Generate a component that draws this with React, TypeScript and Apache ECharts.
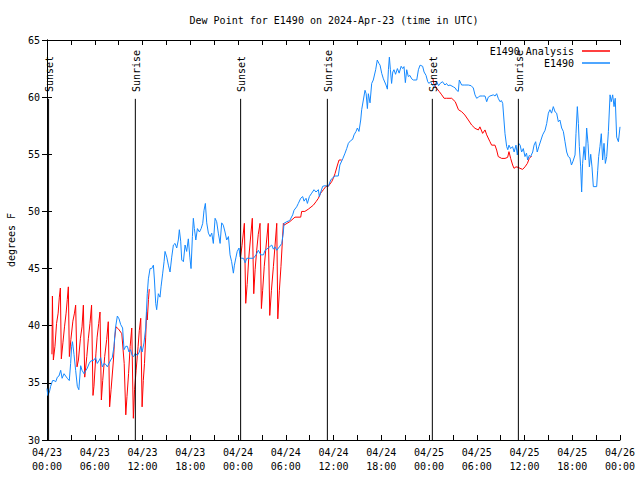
import React, { useEffect, useRef } from "react";
import * as echarts from "echarts";

const TITLE = "Dew Point for E1490 on 2024-Apr-23 (time in UTC)";
const Y_NAME = "degrees F";
const DATES = ["04/23", "04/24", "04/25", "04/26"];

const EVENT_HOURS = [0.2, 11.1, 24.33, 35.23, 48.42, 59.23];
const EVENT_LABELS = ["Sunset", "Sunrise", "Sunset", "Sunrise", "Sunset", "Sunrise"];

const BLUE_HOURS = [
  0.0, 0.1, 0.3, 0.46, 0.7, 0.88, 1.1, 1.3, 1.5, 1.72, 1.9, 2.14, 2.55, 2.8, 2.97, 3.1, 3.2, 3.39, 3.6, 3.81,
  4.0, 4.23, 4.4, 4.65, 4.9, 5.07, 5.3, 5.48, 5.9, 6.1, 6.32, 6.5, 6.74, 6.95, 7.16, 7.4, 7.58, 7.8, 8.0, 8.2,
  8.42, 8.6, 8.84, 9.05, 9.26, 9.5, 9.68, 9.9, 10.1, 10.3, 10.5, 10.7, 10.9, 11.1, 11.35, 11.6, 11.77, 11.95, 12.19, 12.4,
  12.6, 12.74, 12.95, 13.15, 13.37, 13.5, 13.66, 13.78, 13.99, 14.2, 14.33, 14.54, 14.71, 14.83, 15.05, 15.25, 15.46, 15.67, 15.88, 16.09,
  16.3, 16.5, 16.63, 16.8, 16.93, 17.14, 17.35, 17.55, 17.76, 17.95, 18.1, 18.27, 18.39, 18.52, 18.7, 18.9, 19.15, 19.37, 19.57, 19.73,
  19.9, 20.07, 20.28, 20.5, 20.7, 20.9, 21.12, 21.32, 21.53, 21.75, 21.95, 22.15, 22.37, 22.58, 22.8, 23.0, 23.2, 23.42, 23.55, 23.75,
  23.9, 24.13, 24.26, 24.47, 24.7, 24.9, 25.1, 25.5, 25.93, 26.27, 26.56, 26.86, 27.2, 27.4, 27.8, 28.24, 28.45, 28.65, 28.87, 29.2,
  29.5, 29.7, 29.78, 30.12, 30.5, 30.87, 31.04, 31.37, 31.58, 31.88, 32.13, 32.3, 32.55, 32.72, 32.97, 33.26, 33.55, 33.8, 34.1, 34.22,
  34.4, 34.64, 34.95, 35.35, 35.65, 35.98, 36.2, 36.6, 36.8, 37.16, 37.45, 37.66, 37.87, 38.16, 38.4, 38.58, 38.83, 39.0, 39.2, 39.42,
  39.54, 39.75, 39.96, 40.1, 40.26, 40.38, 40.59, 40.8, 41.0, 41.3, 41.5, 41.7, 41.85, 42.06, 42.27, 42.6, 42.77, 42.9, 43.02, 43.15,
  43.3, 43.45, 43.6, 43.8, 44.03, 44.25, 44.5, 44.7, 44.86, 45.03, 45.2, 45.4, 45.6, 45.83, 46.04, 46.46, 46.67, 46.88, 47.2, 47.38,
  47.63, 47.84, 48.0, 48.2, 48.43, 48.65, 48.97, 49.2, 49.4, 49.7, 50.0, 50.2, 50.4, 50.64, 51.06, 51.3, 51.47, 51.68, 51.81, 52.1,
  52.5, 52.94, 53.3, 53.57, 53.78, 53.99, 54.2, 54.4, 54.7, 55.04, 55.25, 55.45, 55.66, 56.08, 56.3, 56.5, 56.7, 56.92, 57.1, 57.26,
  57.42, 57.55, 57.76, 57.9, 58.05, 58.26, 58.5, 58.7, 58.93, 59.1, 59.27, 59.45, 59.64, 59.85, 60.06, 60.25, 60.4, 60.6, 60.77, 61.03,
  61.2, 61.4, 61.6, 61.8, 62.07, 62.28, 62.58, 62.79, 63.0, 63.2, 63.4, 63.62, 63.85, 64.04, 64.25, 64.45, 64.67, 64.88, 65.09, 65.3,
  65.5, 65.7, 65.9, 66.1, 66.35, 66.47, 66.64, 66.77, 66.89, 67.06, 67.18, 67.3, 67.48, 67.65, 67.81, 67.98, 68.15, 68.32, 68.48, 68.65,
  69.07, 69.2, 69.32, 69.48, 69.65, 69.82, 69.99, 70.16, 70.33, 70.54, 70.75, 70.9, 71.08, 71.25, 71.4, 71.58, 71.8, 72.0,
];
const BLUE_VALUES = [
  34.5, 33.9, 34.2, 34.7, 35.2, 35.2, 35.1, 35.5, 35.6, 36.1, 35.4, 35.8, 35.4, 35.2, 36.7, 38.2, 38.6, 37.5, 36.1, 34.7,
  34.4, 36.5, 36.1, 35.8, 36.1, 36.3, 36.7, 36.9, 37.0, 37.2, 36.7, 36.9, 37.2, 36.4, 36.7, 36.6, 36.4, 36.7, 37.0, 37.2,
  38.2, 39.8, 40.85, 40.6, 40.1, 39.8, 37.9, 38.2, 38.2, 37.7, 37.9, 37.4, 37.3, 37.6, 37.4, 37.7, 38.2, 37.7, 38.5, 39.8,
  42.8, 44.1, 45.0, 45.0, 45.3, 44.0, 41.96, 41.4, 42.8, 42.5, 43.4, 44.6, 45.6, 46.5, 46.0, 45.3, 44.7, 46.0, 47.06, 47.2,
  46.8, 47.5, 48.4, 47.4, 45.75, 45.6, 47.06, 46.5, 47.6, 46.0, 45.0, 47.8, 49.4, 48.5, 47.5, 48.5, 48.2, 48.5, 48.96, 50.1,
  50.7, 49.0, 48.1, 47.8, 48.1, 47.2, 49.4, 49.1, 48.1, 47.2, 49.0, 48.8, 48.2, 47.5, 47.8, 46.2, 45.6, 44.6, 45.3, 46.0,
  46.5, 46.8, 46.0, 45.9, 45.9, 45.5, 45.9, 45.9, 45.9, 46.2, 46.6, 46.2, 46.2, 46.6, 46.8, 47.06, 46.7, 46.9, 46.6, 46.9,
  47.2, 48.2, 48.96, 49.1, 49.2, 49.7, 50.1, 50.4, 50.7, 51.15, 51.3, 50.9, 51.15, 50.7, 51.3, 51.6, 51.9, 51.7, 51.9, 51.3,
  51.7, 52.2, 52.25, 52.2, 52.75, 53.0, 53.1, 53.1, 54.06, 54.6, 55.1, 55.5, 55.96, 56.2, 56.3, 56.7, 57.0, 57.3, 57.0, 58.0,
  58.9, 59.75, 60.6, 60.3, 59.0, 60.3, 59.5, 61.2, 61.5, 62.4, 63.25, 62.96, 62.8, 62.08, 61.6, 61.06, 60.7, 62.4, 63.5, 62.4,
  61.2, 62.2, 62.4, 62.0, 62.5, 62.1, 62.7, 62.5, 62.67, 61.27, 62.4, 61.8, 61.9, 61.6, 61.5, 61.5, 62.4, 62.8, 62.7, 62.2,
  61.9, 61.35, 61.2, 61.35, 61.06, 60.9, 61.35, 61.0, 61.2, 61.35, 61.06, 61.2, 61.0, 61.06, 60.9, 60.8, 60.6, 60.5, 61.5, 61.06,
  61.06, 61.06, 61.0, 60.8, 60.2, 59.9, 60.0, 60.1, 60.1, 60.1, 59.6, 60.0, 60.1, 60.2, 60.1, 60.3, 59.9, 59.6, 59.7, 59.46,
  58.0, 56.8, 55.67, 55.4, 55.8, 55.5, 55.67, 55.2, 55.8, 54.94, 55.96, 55.8, 55.2, 55.5, 54.8, 55.1, 54.5, 54.9, 54.8, 55.2,
  55.8, 56.1, 55.2, 55.67, 56.25, 56.7, 57.1, 57.7, 58.6, 58.9, 58.6, 59.17, 58.7, 58.6, 57.85, 58.0, 57.3, 57.0, 56.1, 55.2,
  54.8, 54.7, 54.06, 54.4, 54.94, 56.8, 59.17, 57.7, 55.67, 53.9, 51.7, 54.2, 55.67, 54.5, 57.3, 55.96, 53.9, 55.0, 53.9, 52.17,
  52.17, 53.6, 54.8, 55.67, 56.8, 54.5, 55.96, 54.2, 54.8, 56.98, 60.2, 59.6, 60.2, 59.17, 59.9, 56.5, 56.1, 57.4,
];

const RED_HOURS = [
  0.62, 0.68, 0.8, 1.0, 1.2, 1.4, 1.55, 1.68, 1.8, 2.0, 2.2, 2.4, 2.55, 2.68, 2.81, 3.0, 3.25, 3.45, 3.6, 3.77,
  3.95, 4.2, 4.4, 4.57, 4.74, 5.0, 5.2, 5.4, 5.6, 5.78, 5.9, 6.15, 6.3, 6.5, 6.66, 6.83, 7.0, 7.25, 7.5, 7.7,
  7.87, 8.05, 8.35, 8.5, 8.67, 9.0, 9.4, 9.7, 9.9, 10.05, 10.25, 10.45, 10.65, 10.85, 11.0, 11.2, 11.45, 11.6, 11.78, 11.95,
  12.1, 12.25, 12.4, 12.52, 12.6, 12.75, 12.85, 13.0,
  24.3, 24.5, 24.8, 24.97, 25.15, 25.35, 25.55, 25.8, 25.98, 26.15, 26.35, 26.55, 26.77, 26.94, 27.1, 27.3, 27.6, 27.8, 27.99, 28.2,
  28.45, 28.87, 29.0, 29.2, 29.4, 29.7, 29.78, 30.5, 31.16, 31.88, 32.0, 32.4, 32.84, 33.47, 33.8, 34.1, 34.39, 34.73, 35.06, 35.35,
  35.77, 35.98, 36.2, 36.5, 36.7, 37.03, 37.1,
  48.5, 48.6, 48.97, 49.3, 49.6, 49.9, 50.2, 50.85, 51.3, 51.7, 52.1, 52.5, 52.94, 53.36, 53.78, 54.2, 54.4, 54.74, 55.04, 55.25,
  55.66, 55.87, 56.29, 56.5, 56.7, 57.13, 57.55, 57.88, 58.05, 58.26, 58.51, 58.68, 58.93, 59.22, 59.43, 59.77, 60.06, 60.36, 60.6, 60.9,
];
const RED_VALUES: (number | null)[] = [
  37.5, 42.6, 37.0, 38.2, 40.2, 41.1, 42.5, 43.3, 37.1, 38.5, 39.9, 41.1, 42.3, 43.4, 37.3, 38.8, 40.4, 41.1, 41.8, 36.4,
  37.0, 38.9, 39.9, 41.8, 35.5, 37.3, 38.9, 40.2, 41.8, 33.9, 34.7, 37.6, 39.0, 40.2, 41.2, 33.5, 35.2, 37.3, 38.8, 40.35,
  32.9, 34.4, 37.0, 38.9, 39.9, 39.7, 39.3, 36.7, 32.2, 33.8, 35.8, 38.2, 39.8, 31.9, 34.4, 36.1, 38.2, 39.6, 40.65, 32.9,
  35.2, 36.7, 39.0, 41.2, 40.5, 42.3, 43.2, null,
  45.9, 47.0, 48.96, 41.96, 43.6, 45.9, 47.5, 49.4, 42.8, 44.9, 46.6, 48.0, 48.96, 41.5, 43.1, 45.2, 47.5, 48.96, 40.9, 43.1,
  45.2, 48.96, 40.6, 43.1, 45.2, 48.96, 48.8, 49.1, 49.5, 49.5, 50.0, 50.0, 50.2, 50.55, 50.85, 51.15, 51.6, 51.9, 52.2, 52.2,
  52.6, 52.9, 53.33, 54.06, 54.5, 54.5, null,
  61.6, 61.2, 60.77, 60.48, 60.2, 59.9, 59.9, 59.9, 59.6, 58.9, 58.73, 58.44, 58.0, 57.56, 57.27, 57.13, 57.4, 56.83, 57.13, 56.7,
  56.1, 55.8, 55.8, 55.37, 54.8, 54.64, 54.64, 54.73, 55.23, 54.64, 54.06, 53.77, 53.9, 53.86, 53.77, 53.68, 53.9, 54.2, 54.64, 54.85,
];

const FONT = '"DejaVu Sans Mono", "Liberation Mono", monospace';
const RED = "#ff0000";
const BLUE = "#1589ff";

export default function App() {
  const ref = useRef<HTMLDivElement>(null);
  useEffect(() => {
    document.body.style.margin = "0";
    if (!ref.current) return;
    const chart = echarts.init(ref.current, null, { renderer: "svg" });
    const redData = RED_HOURS.map((h, i) => [h, RED_VALUES[i]]);
    const blueData = BLUE_HOURS.map((h, i) => [h, BLUE_VALUES[i]]);
    const eventData = EVENT_HOURS.map((h, i) => [h, i]);
    const axisLine = { show: true, lineStyle: { color: "#000", width: 1 } };
    const tick = { show: true, inside: true, length: 5, lineStyle: { color: "#000" } };
    chart.setOption({
      animation: false,
      backgroundColor: "#fff",
      textStyle: { fontFamily: FONT },
      graphic: [
        {
          type: "text",
          x: 334,
          y: 20,
          style: { text: TITLE, fontFamily: FONT, fontSize: 10, fill: "#000", textAlign: "center", textVerticalAlign: "middle" },
        },
      ],
      legend: {
        data: ["E1490 Analysis", "E1490"],
        orient: "vertical",
        right: 30,
        top: 45,
        padding: 0,
        itemGap: 0,
        align: "right",
        icon: "rect",
        itemWidth: 28,
        itemHeight: 1.5,
        textStyle: { fontFamily: FONT, fontSize: 10, color: "#000", lineHeight: 12, padding: [0, 3, 0, 0] },
      },
      grid: { left: 47, right: 20, top: 40, bottom: 40, containLabel: false, outerBoundsMode: "none" },
      xAxis: [
        {
          type: "value",
          min: 0,
          max: 72,
          interval: 3,
          position: "bottom",
          axisLine,
          axisTick: tick,
          splitLine: { show: false },
          axisLabel: {
            color: "#000",
            fontFamily: FONT,
            fontSize: 10,
            lineHeight: 14,
            margin: 5,
            formatter: (v: number) => {
              if (Math.round(v) % 6 !== 0) return "";
              const d = Math.floor(v / 24);
              const hh = Math.round(v - d * 24);
              return DATES[d] + "\n" + (hh < 10 ? "0" : "") + hh + ":00";
            },
          },
        },
        {
          type: "value",
          min: 0,
          max: 72,
          interval: 3,
          position: "top",
          axisLine,
          axisTick: tick,
          splitLine: { show: false },
          axisLabel: { show: false },
        },
      ],
      yAxis: [
        {
          type: "value",
          min: 30,
          max: 65,
          interval: 5,
          position: "left",
          name: Y_NAME,
          nameLocation: "middle",
          nameGap: 31,
          nameTextStyle: { color: "#000", fontFamily: FONT, fontSize: 10 },
          axisLine,
          axisTick: tick,
          splitLine: { show: false },
          axisLabel: { color: "#000", fontFamily: FONT, fontSize: 10, margin: 7 },
        },
        {
          type: "value",
          min: 30,
          max: 65,
          interval: 5,
          position: "right",
          axisLine,
          axisTick: tick,
          splitLine: { show: false },
          axisLabel: { show: false },
        },
      ],
      series: [
        {
          name: "E1490 Analysis",
          type: "line",
          data: redData,
          showSymbol: false,
          symbol: "none",
          connectNulls: false,
          lineStyle: { color: RED, width: 1 },
          itemStyle: { color: RED },
          z: 2,
        },
        {
          name: "E1490",
          type: "line",
          data: blueData,
          showSymbol: false,
          symbol: "none",
          lineStyle: { color: BLUE, width: 1 },
          itemStyle: { color: BLUE },
          z: 3,
        },
        {
          name: "events",
          type: "custom",
          data: eventData,
          clip: false,
          z: 4,
          renderItem: (params: any, api: any) => {
            const h = api.value(0);
            const idx = api.value(1);
            const p0 = api.coord([h, 30]);
            const p1 = api.coord([h, 59.85]);
            const pt = api.coord([h, 60.45]);
            return {
              type: "group",
              children: [
                {
                  type: "line",
                  shape: { x1: p0[0], y1: p0[1], x2: p1[0], y2: p1[1] },
                  style: { stroke: "#000", lineWidth: 1 },
                },
                {
                  type: "text",
                  x: pt[0] + 1,
                  y: pt[1],
                  rotation: Math.PI / 2,
                  style: {
                    text: EVENT_LABELS[idx],
                    fill: "#000",
                    fontFamily: FONT,
                    fontSize: 10,
                    textAlign: "left",
                    textVerticalAlign: "middle",
                  },
                },
              ],
            };
          },
        },
      ],
    });
    return () => chart.dispose();
  }, []);
  return <div ref={ref} style={{ width: 640, height: 480 }} />;
}
